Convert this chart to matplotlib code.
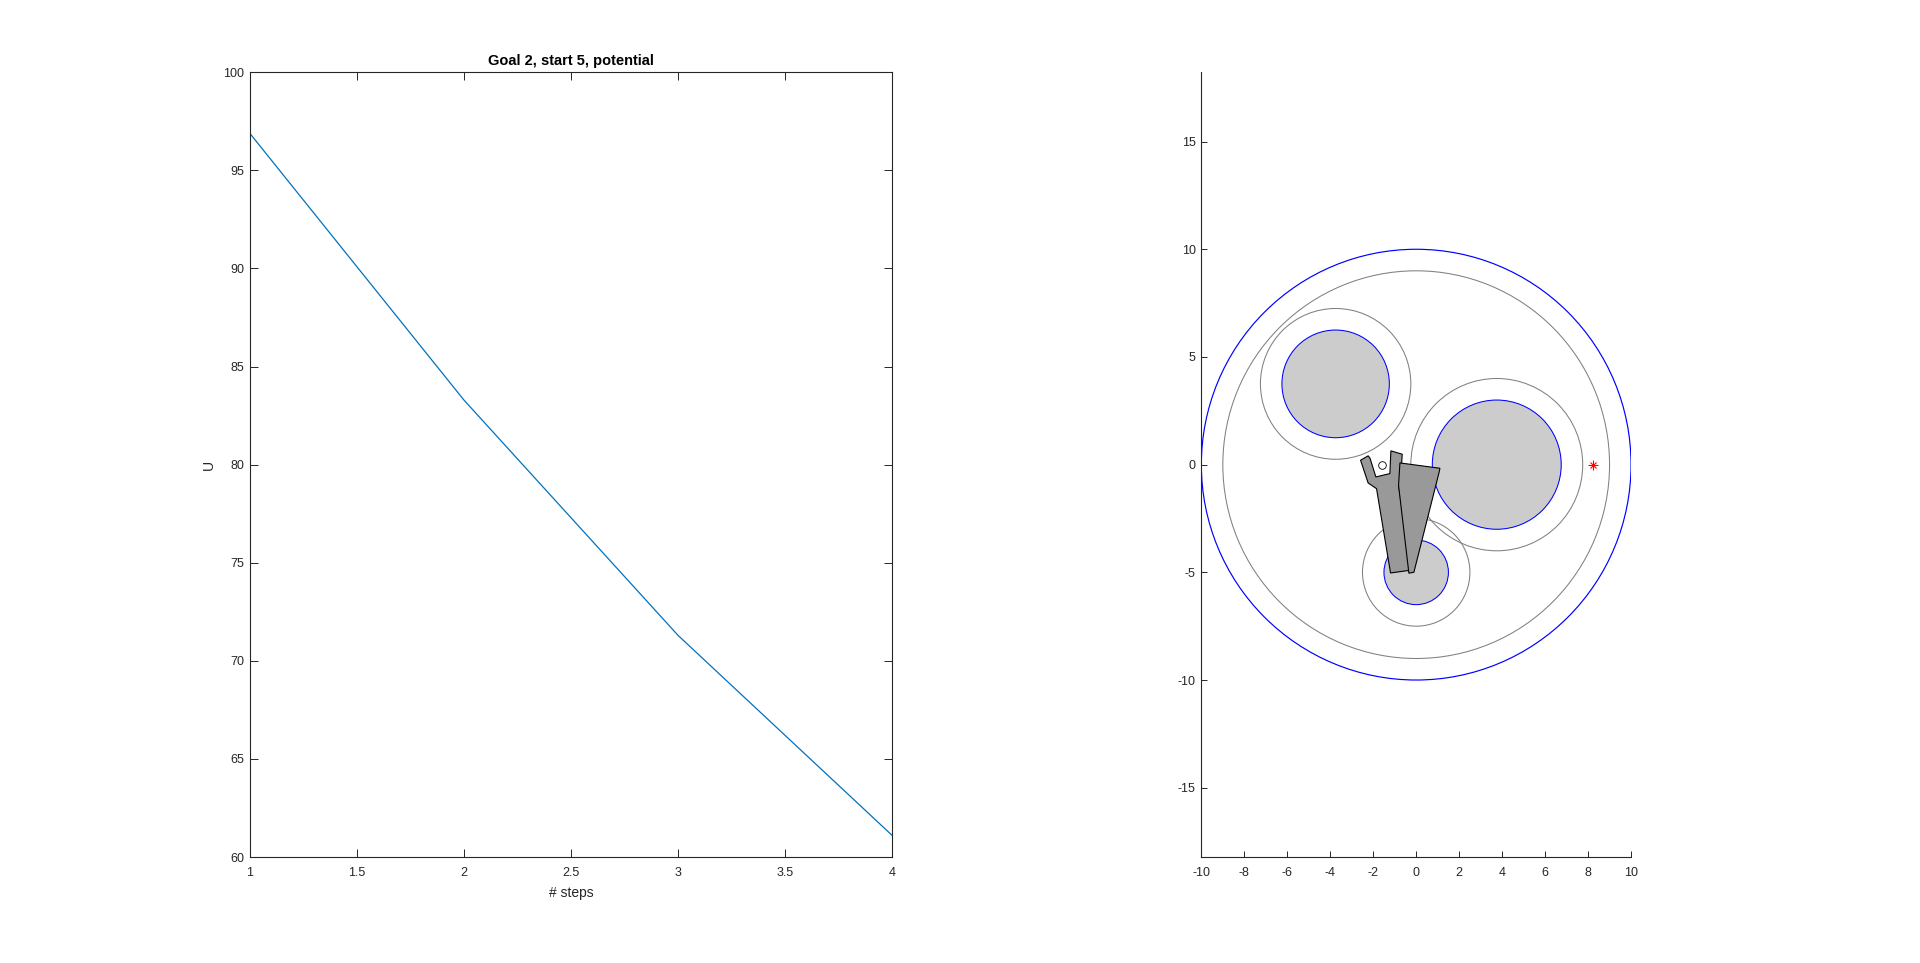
import matplotlib
matplotlib.use("Agg")
import matplotlib.pyplot as plt
from matplotlib.patches import Circle, Polygon

plt.rcParams['font.family'] = ['Liberation Sans', 'DejaVu Sans']
plt.rcParams['font.size'] = 9
plt.rcParams['axes.unicode_minus'] = False

# ---------------- data ----------------
steps = [1, 2, 3, 4]
U = [96.9, 83.3, 71.3, 61.1]
left_xticks = [1, 1.5, 2, 2.5, 3, 3.5, 4]
left_yticks = [60, 65, 70, 75, 80, 85, 90, 95, 100]

workspace_radius = 10.0
boundary_radius = 9.0
obs_x = [-3.75, 3.75, 0.0]
obs_y = [3.75, 0.0, -5.0]
obs_r = [2.5, 3.0, 1.5]
ring_r = [3.5, 4.0, 2.5]
goal_x = [8.25]
goal_y = [0.0]
gripper_pt_x = [-1.6]
gripper_pt_y = [-0.02]

link_a_x = [-1.194, -0.185, -0.821, -0.728, -0.650, -1.178, -1.225, -1.877,
            -2.150, -2.234, -2.590, -2.236, -1.846]
link_a_y = [-5.030, -4.890, -0.960, -0.758, 0.484, 0.640, -0.415, -0.571,
            0.300, 0.410, 0.205, -0.851, -1.115]
link_b_x = [-0.757, 1.104, 1.080, -0.107, -0.340, -0.821]
link_b_y = [0.080, -0.168, -0.300, -4.996, -5.040, -0.960]

right_xticks = [-10, -8, -6, -4, -2, 0, 2, 4, 6, 8, 10]
right_yticks = [-15, -10, -5, 0, 5, 10, 15]

axis_col = '#262626'
line_col = '#0072BD'

fig = plt.figure(figsize=(19.2, 9.63), dpi=100)

# ---------------- left plot ----------------
ax1 = fig.add_axes([0.13, 0.11, 0.3347, 0.815])
ax1.plot(steps, U, color=line_col, lw=0.9)
ax1.set_xlim(1, 4)
ax1.set_ylim(60, 100)
ax1.set_xticks(left_xticks)
ax1.set_xticklabels([('%g' % t) for t in left_xticks])
ax1.set_yticks(left_yticks)
ax1.tick_params(direction='in', length=6, width=0.7, colors=axis_col,
                top=True, right=True, labelsize=9)
ax1.tick_params(axis='x', pad=7)
ax1.tick_params(axis='y', pad=4)
for s in ax1.spines.values():
    s.set_color(axis_col)
    s.set_linewidth(0.8)
ax1.set_title('Goal 2, start 5, potential', fontsize=10.5, fontweight='bold',
              color='black', pad=5)
ax1.set_xlabel('# steps', fontsize=10, color=axis_col, labelpad=5)
ax1.set_ylabel('U', fontsize=10, color=axis_col, labelpad=5)

# ---------------- right plot ----------------
ax2 = fig.add_axes([0.6257, 0.11, 0.2238, 0.815])
ax2.set_xlim(-10, 10)
ax2.set_ylim(-18.22, 18.22)

for cx, cy, r in zip(obs_x, obs_y, ring_r):
    ax2.add_patch(Circle((cx, cy), r, fill=False, ec='#808080', lw=0.75))
for cx, cy, r in zip(obs_x, obs_y, obs_r):
    ax2.add_patch(Circle((cx, cy), r, fc='#cccccc', ec='#0000ff', lw=0.75))
ax2.add_patch(Circle((0, 0), boundary_radius, fill=False, ec='#808080', lw=0.75))
ax2.add_patch(Circle((0, 0), workspace_radius, fill=False, ec='#0000ff', lw=0.85))

ax2.add_patch(Polygon(list(zip(link_a_x, link_a_y)), closed=True,
                      fc='#999999', ec='black', lw=0.8, zorder=3))
ax2.add_patch(Polygon(list(zip(link_b_x, link_b_y)), closed=True,
                      fc='#999999', ec='black', lw=0.8, zorder=3))
ax2.plot(gripper_pt_x, gripper_pt_y, 'o', ms=5.5, mfc='white', mec='black',
         mew=0.6, zorder=4)
ax2.plot(goal_x, goal_y, '+', ms=6.5, color='red', mew=0.8, zorder=4)
ax2.plot(goal_x, goal_y, 'x', ms=5, color='red', mew=0.8, zorder=4)

ax2.set_xticks(right_xticks)
ax2.set_yticks(right_yticks)
ax2.tick_params(direction='in', length=4, width=0.7, colors=axis_col,
                labelsize=9)
ax2.tick_params(axis='x', pad=7)
ax2.tick_params(axis='y', pad=4)
ax2.spines['top'].set_visible(False)
ax2.spines['right'].set_visible(False)
for s in ('left', 'bottom'):
    ax2.spines[s].set_color(axis_col)
    ax2.spines[s].set_linewidth(0.8)

fig.savefig('out.png', dpi=100, facecolor='white')
